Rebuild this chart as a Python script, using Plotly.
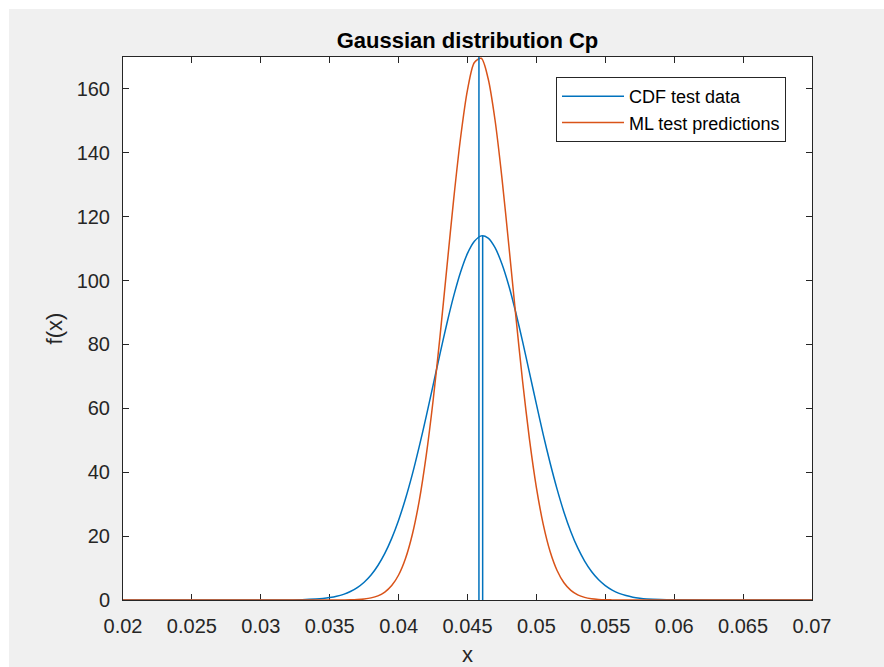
import plotly.graph_objects as go

# ---- data ----
x_grid = [0.020, 0.025, 0.030, 0.032, 0.033, 0.034,
          0.0345, 0.0350, 0.0355, 0.0360, 0.0365, 0.0370, 0.0375, 0.0380, 0.0385, 0.0390,
          0.0395, 0.0400, 0.0405, 0.0410, 0.0415, 0.0420, 0.0425, 0.0430, 0.0435, 0.0440,
          0.0445, 0.0450, 0.0455, 0.0460, 0.0465, 0.0470, 0.0475, 0.0480, 0.0485, 0.0490,
          0.0495, 0.0500, 0.0505, 0.0510, 0.0515, 0.0520, 0.0525, 0.0530, 0.0535, 0.0540,
          0.0545, 0.0550, 0.0555, 0.0560, 0.0565, 0.0570, 0.0575, 0.0580,
          0.059, 0.060, 0.065, 0.070]

cdf_test_data = [0, 0, 0, 0.03, 0.10, 0.29,
                 0.47, 0.75, 1.16, 1.77, 2.65, 3.88, 5.57, 7.83, 10.8, 14.6,
                 19.3, 25.0, 31.7, 39.4, 48.1, 57.4, 67.2, 77.0, 86.5, 95.2,
                 102.7, 108.5, 112.3, 114.0, 113.3, 110.3, 105.2, 98.4, 90.1, 80.9,
                 71.1, 61.3, 51.7, 42.8, 34.7, 27.5, 21.4, 16.3, 12.2, 8.93,
                 6.40, 4.49, 3.09, 2.08, 1.38, 0.89, 0.57, 0.35,
                 0.13, 0.04, 0, 0]

ml_test_predictions = [0, 0, 0, 0, 0, 0,
                       0, 0, 0, 0.02, 0.06, 0.15, 0.33, 0.66, 1.31, 2.49,
                       4.52, 7.83, 13.0, 20.6, 31.1, 45.1, 62.3, 82.3, 104.0, 125.6,
                       144.8, 159.7, 168.3, 169.6, 163.2, 150.2, 132.1, 111.0, 89.2, 68.4,
                       50.2, 35.2, 23.6, 15.1, 9.25, 5.41, 3.03, 1.62, 0.83, 0.40,
                       0.18, 0.07, 0.03, 0.01, 0, 0, 0, 0,
                       0, 0, 0, 0]

mean_x = [0.04583, 0.0461]
mean_height = [170, 114]

series_names = ["CDF test data", "ML test predictions"]
x_ticks = [0.02, 0.025, 0.03, 0.035, 0.04, 0.045, 0.05, 0.055, 0.06, 0.065, 0.07]
x_tick_labels = ["0.02", "0.025", "0.03", "0.035", "0.04", "0.045", "0.05", "0.055", "0.06", "0.065", "0.07"]
y_ticks = [0, 20, 40, 60, 80, 100, 120, 140, 160]

BLUE = "#0072BD"
ORANGE = "#D95319"
AXC = "#262626"
FONT = "Liberation Sans, Arial, Helvetica, sans-serif"

fig = go.Figure()
fig.add_trace(go.Scatter(x=x_grid, y=cdf_test_data, mode="lines", name=series_names[0],
                         line=dict(color=BLUE, width=1.5, shape="spline", smoothing=0.8)))
fig.add_trace(go.Scatter(x=x_grid, y=ml_test_predictions, mode="lines", name=series_names[1],
                         line=dict(color=ORANGE, width=1.5, shape="spline", smoothing=0.8)))
for mx, mh in zip(mean_x, mean_height):
    fig.add_trace(go.Scatter(x=[mx, mx], y=[0, mh], mode="lines", showlegend=False,
                             line=dict(color=BLUE, width=1.5), hoverinfo="skip"))

axis_common = dict(showline=True, linecolor=AXC, linewidth=1, mirror="ticks",
                   ticks="inside", ticklen=6, tickcolor=AXC, tickwidth=1,
                   showgrid=False, zeroline=False, layer="below traces",
                   tickfont=dict(family=FONT, size=20, color=AXC))

fig.update_layout(
    width=884, height=667,
    margin=dict(l=123, r=72, t=57, b=67, autoexpand=False),
    paper_bgcolor="#F0F0F0", plot_bgcolor="white",
    font=dict(family=FONT, color=AXC),
    title=dict(text="<b>Gaussian distribution Cp</b>", x=(123 + 812) / 2 / 884, xanchor="center",
               y=1 - 40 / 667, yanchor="middle", yref="container",
               font=dict(family=FONT, size=22, color="black")),
    xaxis=dict(range=[0.02, 0.07], tickvals=x_ticks, ticktext=x_tick_labels,
               title=dict(text="x", font=dict(family=FONT, size=22, color=AXC), standoff=10),
               ticklabelstandoff=8, automargin=False, **axis_common),
    yaxis=dict(range=[0, 170], tickvals=y_ticks,
               title=dict(text="f(x)", font=dict(family=FONT, size=22, color=AXC), standoff=7),
               ticklabelstandoff=8, automargin=False, **axis_common),
    legend=dict(x=(786 - 123) / 689, xanchor="right", y=(600 - 77) / 543, yanchor="top",
                bgcolor="white", bordercolor=AXC, borderwidth=1,
                font=dict(family=FONT, size=18, color="black"),
                itemwidth=62, tracegroupgap=0),
    shapes=[
        dict(type="rect", xref="paper", yref="paper", layer="below",
             x0=-0.2, x1=1.2, y0=(600 - 9) / 543, y1=1.2,
             fillcolor="white", line=dict(width=0)),
        dict(type="rect", xref="paper", yref="paper", layer="below",
             x0=-0.2, x1=(9 - 123) / 689, y0=-0.2, y1=1.2,
             fillcolor="white", line=dict(width=0)),
    ],
    showlegend=True,
)

fig.write_html("out.html")
